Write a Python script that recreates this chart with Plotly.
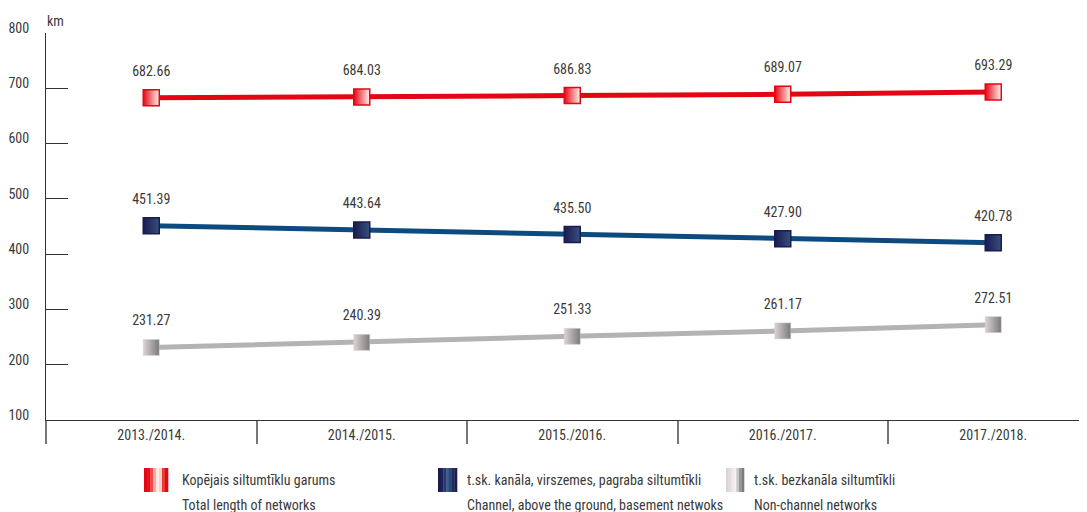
import plotly.graph_objects as go

# data
seasons = ["2013./2014.", "2014./2015.", "2015./2016.", "2016./2017.", "2017./2018."]
total_len = [682.66, 684.03, 686.83, 689.07, 693.29]
channel_len = [451.39, 443.64, 435.50, 427.90, 420.78]
nonchannel_len = [231.27, 240.39, 251.33, 261.17, 272.51]
y_ticks = [100, 200, 300, 400, 500, 600, 700, 800]

legend_lv = ["Kopējais siltumtīklu garums",
             "t.sk. kanāla, virszemes, pagraba siltumtīkli",
             "t.sk. bezkanāla siltumtīkli"]
legend_en = ["Total length of networks",
             "Channel, above the ground, basement netwoks",
             "Non-channel networks"]

FONT = "Roboto Condensed, Liberation Sans Narrow, DejaVu Sans Condensed, sans-serif"
TXT = "#3a3a3a"
W, H = 1087, 512
OFF = 8  # page body margin: figure is drawn 8px right/down of the window corner

# style per series: line colour, marker colour (left), gradient colour (right), border
series = [
    (total_len, "#e30613", "#e30613", "#fff4ee", "#e30613", 1.5),
    (channel_len, "#0d4a80", "#1b1b4f", "#34507f", "#1b1b4f", 1.5),
    (nonchannel_len, "#b3b3b3", "#dcd3d3", "#7a7a7a", "#d6cfcf", 0.5),
]

fig = go.Figure()
for vals, line_col, m_col, g_col, b_col, b_w in series:
    fig.add_trace(go.Scatter(
        x=seasons, y=vals, mode="lines",
        line=dict(color=line_col, width=5),
        hoverinfo="skip", showlegend=False,
    ))
    fig.add_trace(go.Scatter(
        x=seasons, y=vals, mode="markers",
        marker=dict(symbol="square", size=16, color=m_col,
                    gradient=dict(type="horizontal", color=g_col),
                    line=dict(width=b_w, color=b_col)),
        showlegend=False,
    ))
    # value labels
    fig.add_trace(go.Scatter(
        x=seasons, y=vals, mode="markers+text",
        marker=dict(size=28, opacity=0),
        text=[f"{v:.2f}" for v in vals], textposition="top center",
        textfont=dict(family=FONT, size=14, color=TXT),
        hoverinfo="skip", showlegend=False,
    ))


def px(x):
    return (x - OFF) / W


def py(y):
    return 1 - (y - OFF) / H


plot_l, plot_t, plot_b = 46, 33, 420
step = 210.5
x_span = (W - (plot_l - OFF)) / step

fig.update_layout(
    width=W, height=H,
    margin=dict(l=0, r=0, t=0, b=0),
    paper_bgcolor="white", plot_bgcolor="white",
    font=dict(family=FONT, size=14, color=TXT),
    showlegend=False,
    xaxis=dict(
        domain=[px(plot_l), 1], automargin=False,
        type="category", range=[-0.5, -0.5 + x_span],
        showline=True, linecolor="#333333", linewidth=1,
        ticks="outside", tickson="boundaries", ticklen=23,
        tickwidth=2, tickcolor="#777777",
        showgrid=False, zeroline=False,
        tickfont=dict(family=FONT, size=14, color=TXT),
        ticklabelstandoff=2,
    ),
    yaxis=dict(
        domain=[py(plot_b), py(plot_t)], automargin=False,
        range=[100, 800], tickvals=y_ticks,
        showline=True, linecolor="#333333", linewidth=1,
        ticks="inside", ticklen=22, tickcolor="#333333", tickwidth=1,
        showgrid=False, zeroline=False,
        tickfont=dict(family=FONT, size=14, color=TXT),
        ticklabelstandoff=13, ticklabelshift=-5,
    ),
)

# unit label
fig.add_annotation(x=px(55), y=py(21), xref="paper", yref="paper",
                   xanchor="center", yanchor="middle",
                   text="km", showarrow=False,
                   font=dict(family=FONT, size=14, color=TXT))


def stripes(x0, x1, y0, y1, cols):
    n = len(cols)
    w = (x1 - x0) / n
    for i, c in enumerate(cols):
        fig.add_shape(type="rect", xref="paper", yref="paper",
                      x0=px(x0 + i * w), x1=px(x0 + (i + 1) * w + 0.3),
                      y0=py(y1), y1=py(y0),
                      fillcolor=c, line=dict(width=0), layer="above")


icon_cols = [
    ["#e30613", "#e7131c", "#ee4a4c", "#f7a9a4", "#fde8e0", "#fbd0c8", "#ec3a36", "#e30613"],
    ["#1b1b4f", "#1d2458", "#243a6e", "#3a5b8a", "#2c4676", "#1f2b5e", "#1b1b4f"],
    ["#dcd3d3", "#e3dcdc", "#ece7e7", "#f3f1f1", "#c9c7c7", "#9a9a9a", "#7c7c7c"],
]
icon_box = [(144, 168), (438, 457), (726, 744)]
text_x = [180, 465, 752]
for (x0, x1), cols, tx, lv, en in zip(icon_box, icon_cols, text_x, legend_lv, legend_en):
    stripes(x0, x1, 468, 492, cols)
    fig.add_annotation(x=px(tx), y=py(480), xref="paper", yref="paper",
                       text=lv, showarrow=False, xanchor="left", yanchor="middle",
                       font=dict(family=FONT, size=14, color=TXT))
    fig.add_annotation(x=px(tx), y=py(505), xref="paper", yref="paper",
                       text=en, showarrow=False, xanchor="left", yanchor="middle",
                       font=dict(family=FONT, size=14, color=TXT))

fig.write_html("out.html")
